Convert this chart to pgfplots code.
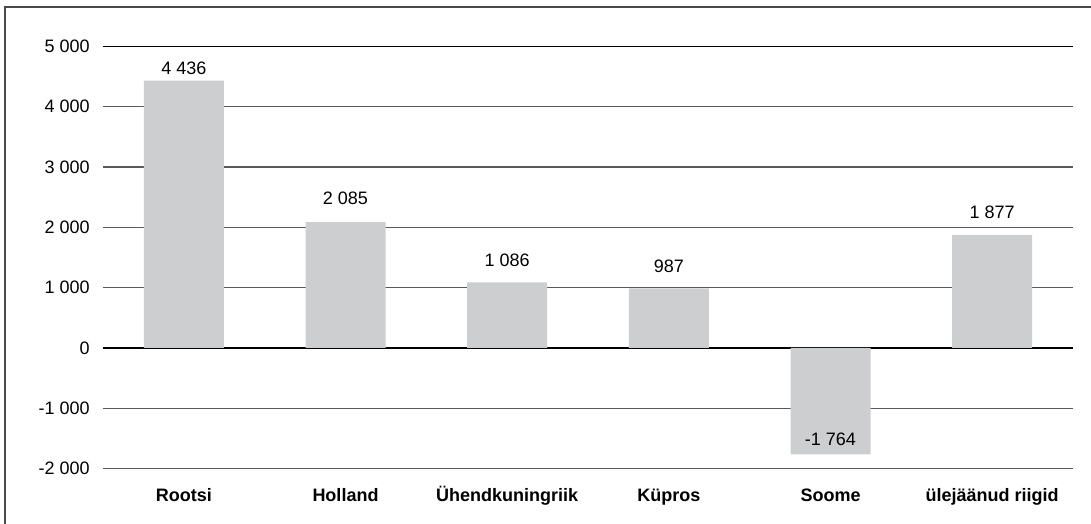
\documentclass[border=0pt]{standalone}
\usepackage{pgfplots}
\pgfplotsset{compat=1.18}
\usepackage{pgfplotstable}
\usepackage{fontspec}
\setmainfont{Liberation Sans}
\definecolor{barc}{HTML}{CDCED0}
\definecolor{gridc}{HTML}{5A5A5A}
\definecolor{framec}{HTML}{4A4A4A}
\pgfplotstableread{
x y
0 4436
1 2085
2 1086
3 987
4 -1764
5 1877
}\bars
\pgfplotstableread{
x ly lab
0 4529 {4 436}
1 2372 {2 085}
2 1344 {1 086}
3 1244 {987}
4 -1626 {-1 764}
5 2145 {1 877}
}\labs
\begin{document}
\fontsize{13.5pt}{16pt}\selectfont
\begin{tikzpicture}[x=1pt,y=1pt]
\useasboundingbox (0,0) rectangle (818.25pt,393pt);
\draw[framec, line width=1.1pt] (3.75pt,0) -- (3.75pt,387.75pt) -- (818.25pt,387.75pt);
\begin{axis}[
  at={(77.25pt,41.625pt)}, anchor=south west,
  scale only axis,
  width=727.5pt, height=316.5pt,
  xmin=-0.5, xmax=5.5,
  ymin=-2000, ymax=5000,
  axis line style={draw=none},
  tick style={draw=none},
  major tick length=0pt,
  xtick={0,1,2,3,4,5},
  xticklabels={Rootsi,Holland,Ühendkuningriik,Küpros,Soome,ülejäänud riigid},
  xticklabel style={font=\fontsize{13.5pt}{16pt}\selectfont\bfseries, anchor=base, inner sep=0pt, yshift=-25.1pt},
  ytick={-2000,-1000,1000,2000,3000,4000},
  yticklabels={-2 000,-1 000,1 000,2 000,3 000,4 000},
  extra y ticks={0,5000},
  extra y tick labels={0,5 000},
  extra y tick style={grid style={black, line width=1.3pt}},
  yticklabel style={font=\fontsize{13.5pt}{16pt}\selectfont, anchor=east, inner sep=0pt, xshift=-9.75pt},
  ymajorgrids,
  grid style={gridc, line width=0.9pt},
  clip=false,
]
\addplot[ybar, bar width=60pt, fill=barc, draw=none] table[x=x,y=y] {\bars};
\addplot[only marks, mark=none, nodes near coords, point meta=explicit symbolic,
  nodes near coords style={anchor=base, inner sep=0pt, font=\fontsize{13.5pt}{16pt}\selectfont, text=black}]
  table[x=x, y=ly, meta=lab] {\labs};
\end{axis}
\end{tikzpicture}
\end{document}
